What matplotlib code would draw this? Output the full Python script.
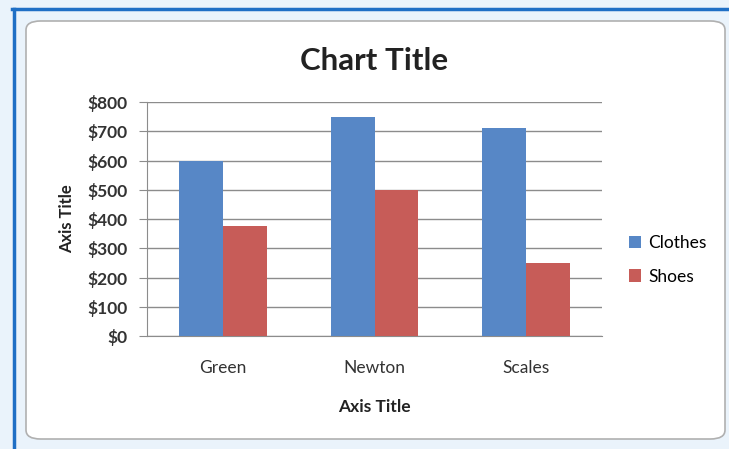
import numpy as np
import matplotlib
matplotlib.use("Agg")
import matplotlib.pyplot as plt
from matplotlib.patches import FancyBboxPatch
from matplotlib.lines import Line2D
from matplotlib.ticker import FuncFormatter

# data
categories = ["Green", "Newton", "Scales"]
clothes = [600, 750, 710]
shoes = [375, 500, 250]
y_ticks = [0, 100, 200, 300, 400, 500, 600, 700, 800]

blue = "#5787C6"
red = "#C75C58"
grid_col = "#8C8C8C"
font = "Lato"

fig = plt.figure(figsize=(7.29, 4.49), dpi=100)
fig.patch.set_facecolor("#EAF3FB")

# window frame: blue border lines on top and left
fig.add_artist(Line2D([12 / 729, 1], [1 - 9 / 449, 1 - 9 / 449], color="#1F6FC5", lw=2.5, zorder=-5))
fig.add_artist(Line2D([14 / 729, 14 / 729], [0, 1 - 9 / 449], color="#1F6FC5", lw=2.5, zorder=-5))

# rounded chart area, kept behind the axes
box = FancyBboxPatch((26 / 729, 10 / 449), 699 / 729, 418 / 449,
                     boxstyle="round,pad=0,rounding_size=0.02",
                     transform=fig.transFigure, facecolor="white",
                     edgecolor="#B0B0B0", lw=1.2, zorder=-5)
fig.add_artist(box)

ax = fig.add_axes([147 / 729, 1 - 336 / 449, 455 / 729, 234 / 449])
ax.set_facecolor("none")

x = np.arange(len(categories))
w = 0.29
ax.bar(x - w / 2, clothes, w, color=blue, label="Clothes", zorder=3)
ax.bar(x + w / 2, shoes, w, color=red, label="Shoes", zorder=3)

ax.set_xlim(-0.5, 2.5)
ax.set_ylim(0, 800)
ax.set_yticks(y_ticks)
ax.yaxis.set_major_formatter(FuncFormatter(lambda v, p: f"${v:.0f}"))
ax.set_xticks(x)
ax.set_xticklabels(categories, fontsize=12.5, fontfamily=font, color="#333333")
for lbl in ax.get_yticklabels():
    lbl.set_fontsize(12.5)
    lbl.set_fontweight("bold")
    lbl.set_fontfamily(font)
    lbl.set_color("#333333")

ax.grid(axis="y", color=grid_col, lw=1, zorder=0)
ax.tick_params(axis="y", length=6, color=grid_col, pad=8)
ax.tick_params(axis="x", length=0, pad=17)
for s in ["top", "right"]:
    ax.spines[s].set_visible(False)
ax.spines["left"].set_color(grid_col)
ax.spines["bottom"].set_color(grid_col)

ax.set_title("Chart Title", fontsize=22.5, fontweight="bold", fontfamily=font,
             color="#222222", pad=23)
ax.set_ylabel("Axis Title", fontsize=12, fontweight="bold", fontfamily=font,
              color="#222222", labelpad=9)
ax.set_xlabel("Axis Title", fontsize=12.5, fontweight="bold", fontfamily=font,
              color="#222222", labelpad=17)

ax.legend(loc="center left", bbox_to_anchor=(1.025, 0.325), frameon=False,
          prop={"family": font, "size": 12.5}, handlelength=0.7, handleheight=0.7,
          handletextpad=0.4, labelspacing=1.0)

fig.savefig("out.png", dpi=100)
